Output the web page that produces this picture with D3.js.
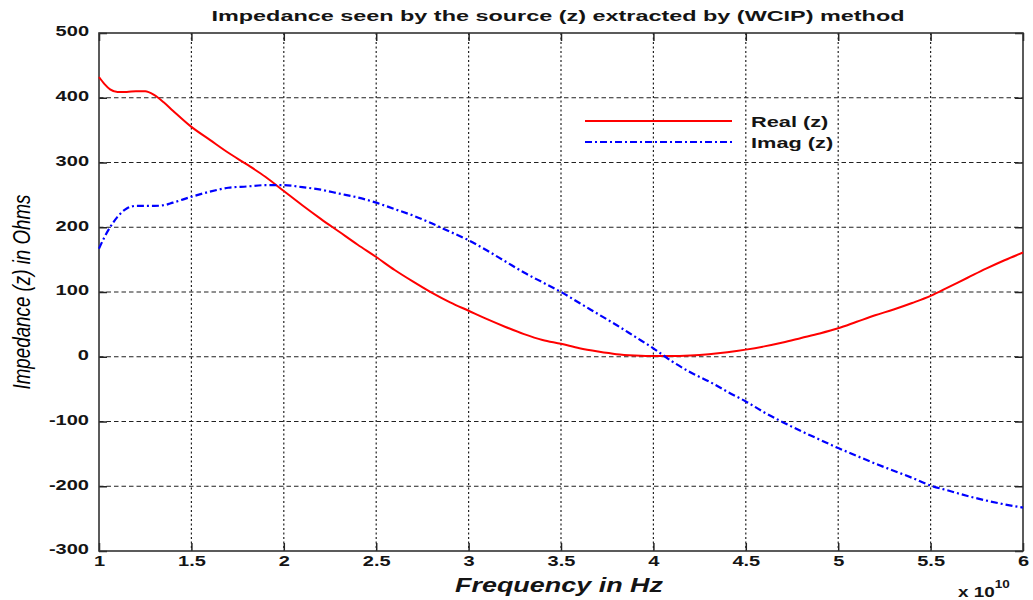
<!DOCTYPE html>
<html><head><meta charset="utf-8">
<script src="https://cdn.jsdelivr.net/npm/d3@7"></script>
<style>body{margin:0;background:#fff}svg{display:block}</style>
</head><body>
<svg id="c" width="1033" height="600"></svg>
<script>
const freq = [1.00,1.03,1.06,1.10,1.15,1.20,1.25,1.30,1.35,1.40,1.50,1.60,1.70,1.80,1.90,2.00,2.10,2.20,2.30,2.40,2.50,2.60,2.70,2.80,2.90,3.00,3.10,3.20,3.30,3.40,3.50,3.60,3.70,3.80,3.90,4.00,4.10,4.20,4.30,4.40,4.50,4.60,4.70,4.80,4.90,5.00,5.10,5.20,5.30,5.40,5.50,5.60,5.70,5.80,5.90,6.00];
const realZ = [432,421,413,409,409,410,410,404,393,380,355,335,315,297,278,256,234,213,193,173,154,134,116,99,84,71,58,46,35,26,20,13,8,4,2,1,1,2,4,7,11,16,22,29,36,44,54,64,73,83,94,108,122,136,149,161];
const imagZ = [167,185,200,216,229,233,233,233,234,238,247,255,261,263,265,265,262,258,252,246,238,228,218,206,193,180,164,147,130,115,100,83,66,49,31,13,-7,-24,-38,-54,-69,-86,-101,-115,-128,-141,-153,-165,-176,-187,-199,-207,-215,-222,-228,-233];
const xTicks = [1,1.5,2,2.5,3,3.5,4,4.5,5,5.5,6];
const yTicks = [-300,-200,-100,0,100,200,300,400,500];
const seriesNames = ["Real (z)","Imag (z)"];

const svg = d3.select("#c");
const L=99, R=1023, T=33, B=551;
const x = d3.scaleLinear().domain([1,6]).range([L,R]);
const y = d3.scaleLinear().domain([-300,500]).range([B,T]);
const font = "Liberation Sans, Arial, sans-serif";
const txt = "#141414";
const K = 1.43; // horizontal stretch of the reference lettering
function stretch(sel, k){
  sel.each(function(){
    const w = this.getComputedTextLength();
    d3.select(this).attr("textLength", w*k).attr("lengthAdjust","spacingAndGlyphs");
  });
}
const plain = d => String(d);

// grid
svg.append("g").selectAll("line").data(xTicks.slice(1,-1)).join("line")
  .attr("x1",d=>x(d)).attr("x2",d=>x(d)).attr("y1",T).attr("y2",B)
  .attr("stroke","#222").attr("stroke-width",1.2).attr("stroke-dasharray","2,2.5");
svg.append("g").selectAll("line").data(yTicks.slice(1,-1)).join("line")
  .attr("x1",L).attr("x2",R).attr("y1",d=>y(d)).attr("y2",d=>y(d))
  .attr("stroke","#222").attr("stroke-width",1.2).attr("stroke-dasharray","4.5,3");

// axes with inward ticks
const tl = 8;
const xb = svg.append("g").attr("transform",`translate(0,${B})`)
  .call(d3.axisBottom(x).tickValues(xTicks).tickSize(-tl).tickPadding(tl+6).tickFormat(plain));
const xt = svg.append("g").attr("transform",`translate(0,${T})`)
  .call(d3.axisTop(x).tickValues(xTicks).tickSize(-tl).tickFormat(""));
const yl = svg.append("g").attr("transform",`translate(${L},0)`)
  .call(d3.axisLeft(y).tickValues(yTicks).tickSize(-tl).tickPadding(tl+2).tickFormat(plain));
const yr = svg.append("g").attr("transform",`translate(${R},0)`)
  .call(d3.axisRight(y).tickValues(yTicks).tickSize(-tl).tickFormat(""));
[xb,xt,yl,yr].forEach(g=>{
  g.select(".domain").remove();
  g.selectAll(".tick line").attr("stroke","#222").attr("stroke-width",1.5);
  g.selectAll("text").attr("font-family",font).attr("font-weight","bold")
   .attr("font-size",14).attr("fill",txt);
});
xb.selectAll("text").attr("dy","0.1em");
yl.selectAll("text").attr("dy","0.2em");
stretch(xb.selectAll("text"), K);
stretch(yl.selectAll("text"), K);
svg.append("rect").attr("x",L).attr("y",T).attr("width",R-L).attr("height",B-T)
  .attr("fill","none").attr("stroke","#333").attr("stroke-width",1.6);

// lines
const lineGen = vals => d3.line().x((d,i)=>x(freq[i])).y(d=>y(d)).curve(d3.curveMonotoneX)(vals);
svg.append("path").attr("d",lineGen(realZ)).attr("fill","none")
  .attr("stroke","#ff0000").attr("stroke-width",2);
svg.append("path").attr("d",lineGen(imagZ)).attr("fill","none")
  .attr("stroke","#0000ff").attr("stroke-width",2.2).attr("stroke-dasharray","7,3,2,3");

// legend
const leg = svg.append("g");
[["#ff0000",null],["#0000ff","7,3,2,3"]].forEach((s,i)=>{
  const yy = 121 + i*21;
  leg.append("line").attr("x1",585).attr("x2",732).attr("y1",yy).attr("y2",yy)
    .attr("stroke",s[0]).attr("stroke-width",2).attr("stroke-dasharray",s[1]);
  leg.append("text").attr("x",751).attr("y",yy+6).text(seriesNames[i])
    .attr("font-family",font).attr("font-weight","bold").attr("font-size",15).attr("fill",txt);
});
stretch(leg.selectAll("text"), 1.45);

// title and labels
const title = svg.append("text").attr("x",558).attr("y",21).attr("text-anchor","middle")
  .attr("font-family",font).attr("font-weight","bold").attr("font-size",15).attr("fill",txt)
  .text("Impedance seen by the source (z) extracted by (WCIP) method");
title.attr("textLength",693).attr("lengthAdjust","spacingAndGlyphs");
const xl = svg.append("text").attr("x",559).attr("y",592).attr("text-anchor","middle")
  .attr("font-family",font).attr("font-weight","bold").attr("font-style","italic")
  .attr("font-size",20).attr("fill",txt).text("Frequency in Hz");
xl.attr("textLength",208).attr("lengthAdjust","spacingAndGlyphs");
const ylab = svg.append("text").attr("transform","translate(30,292) rotate(-90)").attr("text-anchor","middle")
  .attr("font-family",font)
  .attr("font-style","italic").attr("font-size",23).attr("fill","#000")
  .text("Impedance (z) in Ohms");
ylab.attr("textLength",195).attr("lengthAdjust","spacingAndGlyphs");
const ex = svg.append("text").attr("x",958).attr("y",597)
  .attr("font-family",font).attr("font-weight","bold").attr("font-size",14).attr("fill",txt);
ex.append("tspan").text("x 10");
ex.append("tspan").attr("dy",-9).attr("font-size",10).text("10");
stretch(ex.selectAll("tspan"), 1.35);
</script>
</body></html>
